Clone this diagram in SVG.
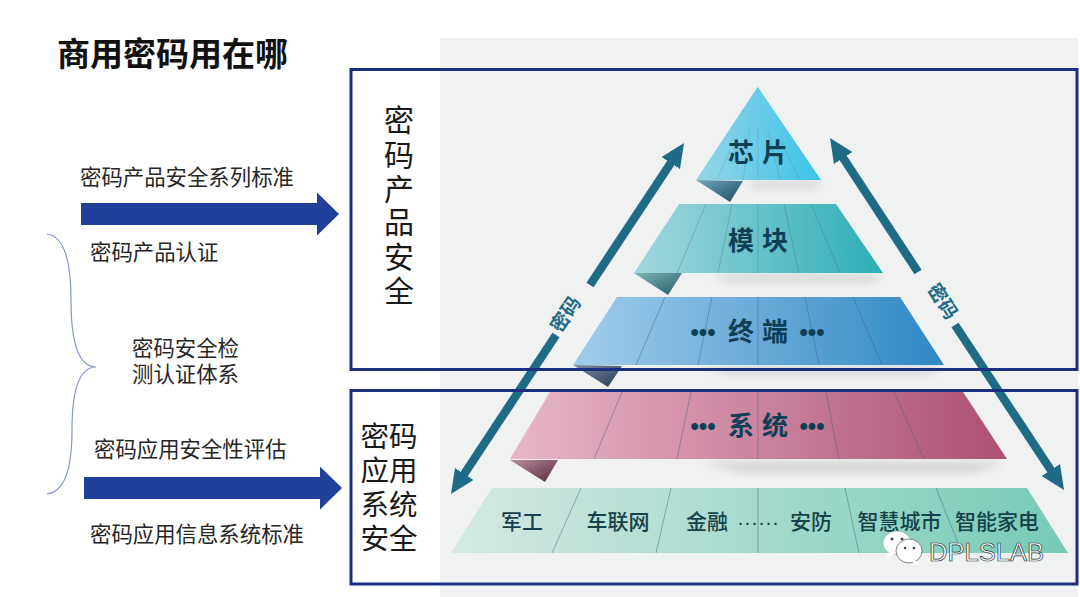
<svg xmlns="http://www.w3.org/2000/svg" width="1080" height="597" viewBox="0 0 1080 597">
<style>
text{font-family:"Noto Sans CJK SC","Liberation Sans",sans-serif}
.l{font-size:21.4px;fill:#262626}
.h{font-size:33px;font-weight:700;fill:#111}
.v{font-size:30px;fill:#1a1a1a;text-anchor:middle}
.a{font-size:28.5px;fill:#1a1a1a;text-anchor:middle}
.t{font-size:26px;font-weight:700;fill:#0e3f55;text-anchor:middle}
.d{font-family:"Liberation Sans",sans-serif;font-size:24px;font-weight:700;fill:#0e3f55;text-anchor:middle}
.s{font-size:21px;font-weight:500;fill:#17414a;text-anchor:middle}
.k{font-size:19px;font-weight:700;fill:#1f6b85;text-anchor:middle}
.box{fill:none;stroke:#1b2f82;stroke-width:3}
.div{stroke:#44607c;stroke-opacity:.45;stroke-width:1;fill:none}
.arr{stroke:#1f6b85;stroke-width:8.5;fill:none;marker-end:url(#tealHead)}
.blue{stroke:#21409a;stroke-width:22;fill:none;marker-end:url(#blueHead)}
</style>
<defs>
<linearGradient id="g1"><stop offset="0" stop-color="#96d5e6"/><stop offset="1" stop-color="#3cc2ea"/></linearGradient>
<linearGradient id="g2"><stop offset="0" stop-color="#a3d7df"/><stop offset="1" stop-color="#2caeb6"/></linearGradient>
<linearGradient id="g3"><stop offset="0" stop-color="#a2cdea"/><stop offset="1" stop-color="#2e87c5"/></linearGradient>
<linearGradient id="g4"><stop offset="0" stop-color="#e8b7c8"/><stop offset="1" stop-color="#ad4f74"/></linearGradient>
<linearGradient id="g5"><stop offset="0" stop-color="#d5e9e3"/><stop offset="1" stop-color="#76cbb6"/></linearGradient>
<linearGradient id="f1" x1="0" y1="0" x2="1" y2="1"><stop offset="0" stop-color="#6fa8bd"/><stop offset="1" stop-color="#1c4a63"/></linearGradient>
<linearGradient id="f2" x1="0" y1="0" x2="1" y2="1"><stop offset="0" stop-color="#7fb3b5"/><stop offset="1" stop-color="#235f6a"/></linearGradient>
<linearGradient id="f3" x1="0" y1="0" x2="1" y2="1"><stop offset="0" stop-color="#7d90a8"/><stop offset="1" stop-color="#24384f"/></linearGradient>
<linearGradient id="f4" x1="0" y1="0" x2="1" y2="1"><stop offset="0" stop-color="#b78a9c"/><stop offset="1" stop-color="#5c2a40"/></linearGradient>
<filter id="blur" x="-20%" y="-200%" width="140%" height="500%"><feGaussianBlur stdDeviation="4"/></filter>
<marker id="tealHead" markerUnits="userSpaceOnUse" markerWidth="26" markerHeight="24" refX="12" refY="12" orient="auto"><path d="M0 1L24 12L0 23Z" fill="#1f6b85"/></marker>
<marker id="blueHead" markerUnits="userSpaceOnUse" markerWidth="22" markerHeight="43" refX="1" refY="21.5" orient="auto"><path d="M0 0L22 21.5L0 43Z" fill="#21409a"/></marker>
</defs>

<rect width="1080" height="597" fill="#fff"/>
<rect x="440" y="38" width="638" height="559" fill="#f0f1f1"/>

<text class="h" x="57" y="66">商用密码用在哪</text>

<g id="tier-chip">
<path d="M745 182L825 182L815 188L755 188Z" fill="#000" opacity=".12" filter="url(#blur)"/>
<path d="M696 180L743 181L730 202Z" fill="url(#f1)"/>
<path d="M757.700 86.700L821 180L696 180Z" fill="url(#g1)"/>
<path class="div" style="stroke-opacity:.18" d="M730 150L717 180M750 130L743 180M758 130L758 180M768 130L780 180M780 140L800 180"/>
<text class="t" x="741" y="162">芯</text><text class="t" x="775" y="162">片</text>
</g>
<g id="tier-module">
<path d="M710 275L885 275L870 282L730 282Z" fill="#000" opacity=".12" filter="url(#blur)"/>
<path d="M634 273L682 273L668 295Z" fill="url(#f2)"/>
<path d="M679 204L836 204L883 273L634 273Z" fill="url(#g2)"/>
<path class="div" style="stroke-opacity:.3" d="M706 204L677 273M732 204L718 273M758 204L758 273M784 204L799 273M811 204L840 273"/>
<text class="t" x="741" y="250">模</text><text class="t" x="775" y="250">块</text>
</g>
<g id="tier-terminal">
<path d="M700 367L945 367L925 374L730 374Z" fill="#000" opacity=".12" filter="url(#blur)"/>
<path d="M573 365L622 366L608 387Z" fill="url(#f3)"/>
<path d="M617 297L900 297L944 365L573 365Z" fill="url(#g3)"/>
<path class="div" d="M665 297L636 365M712 297L698 365M758 297L758 365M805 297L819 365M853 297L882 365"/>
<text class="t" x="741" y="341">终</text><text class="t" x="775" y="341">端</text>
<text class="d" x="703" y="340">•••</text><text class="d" x="812" y="340">•••</text>
</g>
<g id="tier-system">
<path d="M700 462L1005 462L975 472L740 472Z" fill="#000" opacity=".12" filter="url(#blur)"/>
<path d="M510 460L558 460L545 482Z" fill="url(#f4)"/>
<path d="M550 392L963 392L1007 459L510 459Z" fill="url(#g4)"/>
<path class="div" d="M622 392L594 459M691 392L677 459M758 392L758 459M826 392L839 459M894 392L924 459"/>
<text class="t" x="741" y="435">系</text><text class="t" x="775" y="435">统</text>
<text class="d" x="703" y="434">•••</text><text class="d" x="812" y="434">•••</text>
</g>
<g id="tier-applications">
<path d="M492 488L1027 488L1068 553L451 553Z" fill="url(#g5)"/>
<path class="div" d="M581 488L552 553M671 488L656 553M758 488L758 553M845 488L859 553M936 488L962 553"/>
<text class="s" x="522" y="528.500">军工</text>
<text class="s" x="618" y="528.500">车联网</text>
<text class="s" x="707" y="528.500">金融</text>
<text class="s" x="758" y="528.500" style="font-family:'Liberation Sans',sans-serif">······</text>
<text class="s" x="811" y="528.500">安防</text>
<text class="s" x="899.500" y="528.500">智慧城市</text>
<text class="s" x="997" y="528.500">智能家电</text>
</g>

<g id="connectors">
<path class="arr" d="M590 285L677.400 153"/>
<path class="arr" d="M556 335L457.600 484"/>
<path class="arr" d="M918 272L836.600 148"/>
<path class="arr" d="M955 325L1057.400 480"/>
<path class="blue" d="M81 214L318 214"/>
<path class="blue" d="M84 488L321 488"/>
<path d="M47 234C64 236 71 262 71 300C71 340 78 367 96 367C78 367 72 392 72 430C72 470 64 492 47 494" fill="none" stroke="#8296cc" stroke-width="1.200"/>
</g>
<text class="k" transform="translate(571 318) rotate(-56)">密码</text>
<text class="k" transform="translate(937 305) rotate(57)">密码</text>

<g id="box-product">
<rect class="box" x="351" y="69.500" width="726" height="300"/>
<text class="v"><tspan x="399" y="131">密</tspan><tspan x="399" y="165.500">码</tspan><tspan x="399" y="200">产</tspan><tspan x="399" y="233">品</tspan><tspan x="399" y="268">安</tspan><tspan x="399" y="302">全</tspan></text>
</g>
<g id="box-application">
<rect class="box" x="351" y="390.500" width="726" height="193.500"/>
<text class="a"><tspan x="389" y="447">密码</tspan><tspan x="389" y="481">应用</tspan><tspan x="389" y="515">系统</tspan><tspan x="389" y="549">安全</tspan></text>
</g>

<g id="labels-left">
<text class="l" x="80" y="185">密码产品安全系列标准</text>
<text class="l" x="90" y="260">密码产品认证</text>
<text class="l"><tspan x="132" y="356">密码安全检</tspan><tspan x="132" y="382">测认证体系</tspan></text>
<text class="l" x="94" y="457">密码应用安全性评估</text>
<text class="l" x="90" y="542">密码应用信息系统标准</text>
</g>

<g id="watermark">
<ellipse cx="897" cy="543" rx="14" ry="12" fill="#fff" stroke="#9aa" stroke-width=".6"/>
<path d="M889 552L886 559L894 555Z" fill="#fff"/>
<ellipse cx="909" cy="551" rx="13" ry="12" fill="#fff" stroke="#666" stroke-width=".8"/>
<path d="M915 560L920 566L912 562Z" fill="#fff"/>
<circle cx="892" cy="539" r="1.500" fill="#445"/><circle cx="902" cy="539" r="1.500" fill="#445"/>
<circle cx="905" cy="548" r="1.300" fill="#445"/><circle cx="914" cy="548" r="1.300" fill="#445"/>
<text x="929" y="560.500" textLength="115" lengthAdjust="spacingAndGlyphs" style="font-family:'Liberation Sans',sans-serif;font-size:25px;fill:#fff;stroke:#26363c;stroke-width:.7">DPLSLAB</text>
</g>
</svg>
